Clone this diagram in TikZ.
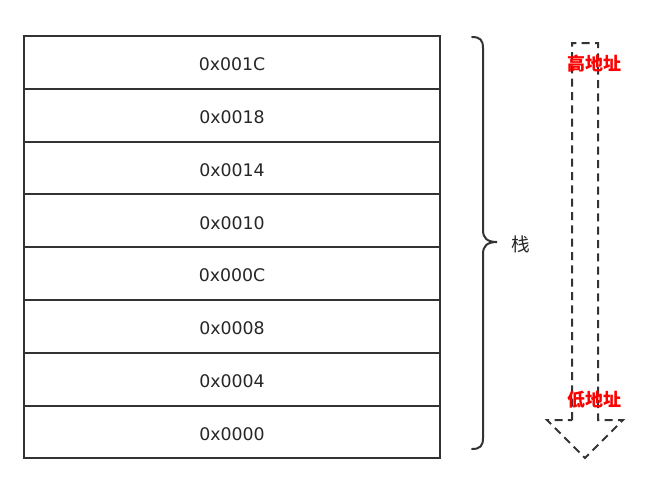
\documentclass[tikz,border=0pt]{standalone}
\usepackage{fontspec}
\setmainfont{Noto Sans CJK SC}
\newfontfamily\hexfont{DejaVu Sans}
\begin{document}
\begin{tikzpicture}[x=0.75pt,y=-0.75pt,
  cell/.style={draw=black!80,line width=1.5pt,minimum width=312pt,minimum height=39.6pt,inner sep=0pt,font=\hexfont\fontsize{13pt}{15pt}\selectfont,text=black!85,text depth=0pt,text height=12.5pt},
  brace/.style={draw=black!80,line width=1.5pt,line cap=round},
  dasharrow/.style={draw=black!80,line width=1.5pt,dash pattern=on 6pt off 4pt},
  addr/.style={text=red,font=\fontsize{13.5pt}{15pt}\selectfont\bfseries,inner sep=0pt}]
\useasboundingbox (0,0) rectangle (670,493);
\foreach \i/\t in {0/0x001C,1/0x0018,2/0x0014,3/0x0010,4/0x000C,5/0x0008,6/0x0004,7/0x0000}{
  \node[cell] (r\i) at (232,{36+26.4+52.8*\i}) {\t};
}
% brace
\draw[brace] (472,37) .. controls (480,37) and (483,40) .. (483,48)
  -- (483,230) .. controls (483,238) and (487,242) .. (497,242)
  .. controls (487,242) and (483,246) .. (483,254)
  -- (483,438) .. controls (483,446) and (480,449) .. (472,449);
\node[font=\fontsize{14pt}{15pt}\selectfont,text=black!85] (lbl) at (521,244) {栈};
% dashed arrow
\draw[dasharrow] (572,420) -- (572,43) -- (598,43) -- (598,420) -- (623,420) -- (585,458) -- (547,420) -- cycle;
\node[addr] (hi) at (594,64) {高地址};
\node[addr] (lo) at (594,400) {低地址};
\end{tikzpicture}
\end{document}
